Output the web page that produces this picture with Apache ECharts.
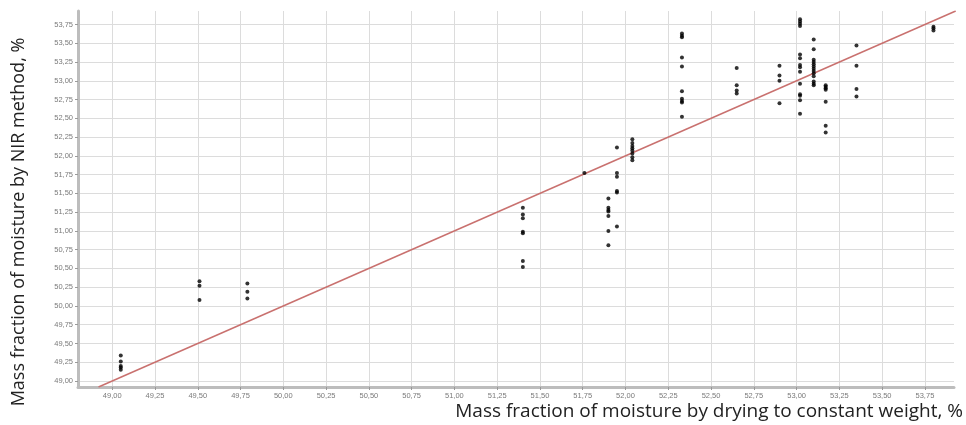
<!DOCTYPE html>
<html>
<head>
<meta charset="utf-8">
<script src="https://cdn.jsdelivr.net/npm/echarts@6/dist/echarts.min.js"></script>
<style>
html,body{margin:0;padding:0;background:#fff;}
#chart{width:966px;height:425px;}
</style>
</head>
<body>
<div id="chart"></div>
<script>
// Reference moisture by drying (x) for each group of measurements
const clusterX = [49.05, 49.51, 49.79, 51.40, 51.76, 51.90, 51.95, 52.04, 52.33, 52.65, 52.90, 53.02, 53.10, 53.17, 53.35, 53.80];
// NIR-measured moisture (y) for each group
const clusterY = [
  [49.34, 49.26, 49.20, 49.18, 49.15],
  [50.33, 50.27, 50.08],
  [50.30, 50.19, 50.10],
  [51.31, 51.22, 51.17, 50.99, 50.97, 50.60, 50.52],
  [51.77],
  [51.43, 51.31, 51.28, 51.26, 51.20, 51.00, 50.81],
  [52.11, 51.77, 51.72, 51.53, 51.51, 51.06],
  [52.22, 52.17, 52.13, 52.10, 52.07, 52.03, 51.98, 51.94],
  [53.63, 53.60, 53.58, 53.31, 53.19, 52.86, 52.76, 52.73, 52.71, 52.52],
  [53.17, 52.94, 52.87, 52.83],
  [53.20, 53.07, 53.00, 52.70],
  [53.82, 53.79, 53.76, 53.73, 53.35, 53.30, 53.21, 53.18, 53.12, 52.96, 52.82, 52.80, 52.74, 52.56],
  [53.55, 53.42, 53.28, 53.25, 53.22, 53.19, 53.16, 53.13, 53.10, 53.06, 52.99, 52.96, 52.94],
  [52.94, 52.92, 52.90, 52.88, 52.72, 52.40, 52.31],
  [53.47, 53.20, 52.89, 52.79],
  [53.72, 53.70, 53.67]
];
// Line of equality y = x
const identityLine = [48.92, 53.93];
const xRange = [48.8, 53.92];
const yRange = [48.92, 53.93];
const tickStep = 0.25;
const xTitle = 'Mass fraction of moisture by drying to constant weight, %';
const yTitle = 'Mass fraction of moisture by NIR method, %';

const points = [];
clusterX.forEach((x, i) => clusterY[i].forEach(y => points.push([x, y])));

function fmt(v) {
  const k = v / tickStep;
  if (Math.abs(k - Math.round(k)) > 1e-6) return '';
  return v.toFixed(2).replace('.', ',');
}

const axisCommon = {
  type: 'value',
  minInterval: tickStep,
  maxInterval: tickStep,
  splitNumber: 20,
  axisLine: { show: true, onZero: false, lineStyle: { color: '#bdbdbd', width: 3 } },
  axisTick: { show: true, length: 3, lineStyle: { color: '#9a9a9a' } },
  axisLabel: { formatter: fmt, color: '#7a7a7a', fontSize: 7.5, fontFamily: 'Liberation Sans', margin: 5, showMinLabel: false, showMaxLabel: false },
  splitLine: { show: true, showMinLine: false, showMaxLine: false, lineStyle: { color: '#dcdcdc', width: 1 } }
};

const chart = echarts.init(document.getElementById('chart'), null, { renderer: 'canvas' });
chart.setOption({
  animation: false,
  backgroundColor: '#ffffff',
  grid: { left: 78, right: 12, top: 11, bottom: 38, containLabel: false },
  xAxis: Object.assign({}, axisCommon, { min: xRange[0], max: xRange[1] }),
  yAxis: Object.assign({}, axisCommon, { min: yRange[0], max: yRange[1] }),
  graphic: [
    { type: 'text', x: 963, y: 412, style: { text: xTitle, font: '19px "Open Sans"', fill: '#222', textAlign: 'right', textVerticalAlign: 'middle' } },
    { type: 'text', x: 19, y: 222, rotation: Math.PI / 2, style: { text: yTitle, font: '18px "Open Sans"', fill: '#222', textAlign: 'center', textVerticalAlign: 'middle' } }
  ],
  series: [
    {
      type: 'line',
      data: identityLine.map(v => [v, v]),
      showSymbol: false,
      silent: true,
      lineStyle: { color: '#c9716f', width: 1.5 },
      z: 2
    },
    {
      type: 'scatter',
      data: points,
      symbol: 'circle',
      symbolSize: 4,
      itemStyle: { color: '#000000' },
      z: 3
    }
  ]
});
</script>
</body>
</html>
